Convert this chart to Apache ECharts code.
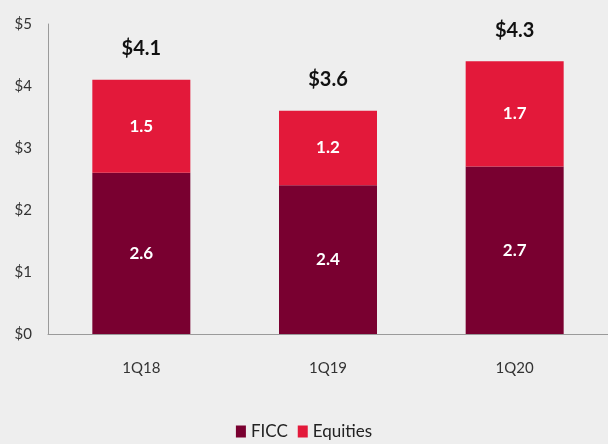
<!DOCTYPE html>
<html>
<head>
<meta charset="utf-8">
<script src="https://cdn.jsdelivr.net/npm/echarts@6/dist/echarts.min.js"></script>
<style>
    html, body { margin: 0; padding: 0; background: #eeeeee; }
    #chart { width: 608px; height: 444px; }
</style>
</head>
<body>
<div id="chart"></div>
<script>
    // data
    var categories = ['1Q18', '1Q19', '1Q20'];
    var ficc = [2.6, 2.4, 2.7];
    var equities = [1.5, 1.2, 1.7];
    var totals = [4.1, 3.6, 4.3];
    var yTicks = ['$0', '$1', '$2', '$3', '$4', '$5'];

    var myChart = echarts.init(document.getElementById('chart'));
    myChart.setOption({
        backgroundColor: '#eeeeee',
        textStyle: { fontFamily: 'Lato' },
        grid: { left: 48, right: 0, top: 24, bottom: 110 },
        legend: {
            bottom: -1,
            left: 'center',
            itemWidth: 10,
            itemHeight: 12,
            itemGap: 10,
            icon: 'rect',
            textStyle: { fontSize: 17, color: '#222', fontFamily: 'Lato' },
            data: ['FICC', 'Equities']
        },
        xAxis: {
            type: 'category',
            data: categories,
            axisTick: { show: false },
            axisLine: { lineStyle: { color: '#9a9a9a', width: 1 } },
            axisLabel: { color: '#333', fontSize: 15, margin: 27 }
        },
        yAxis: {
            type: 'value',
            min: 0,
            max: 5,
            interval: 1,
            splitLine: { show: false },
            axisTick: { show: false },
            axisLine: { show: true, lineStyle: { color: '#9a9a9a', width: 1 } },
            axisLabel: {
                color: '#333',
                fontSize: 15,
                margin: 16,
                formatter: function (v) { return yTicks[v]; }
            }
        },
        series: [
            {
                name: 'FICC',
                type: 'bar',
                stack: 'total',
                data: ficc,
                barWidth: 98,
                itemStyle: { color: '#790030' },
                label: {
                    show: true,
                    position: 'inside',
                    color: '#fff',
                    fontSize: 17,
                    fontWeight: 'bold',
                    formatter: function (p) { return p.value.toFixed(1); }
                }
            },
            {
                name: 'Equities',
                type: 'bar',
                stack: 'total',
                data: equities,
                barWidth: 98,
                itemStyle: { color: '#e3193a' },
                label: {
                    show: true,
                    position: 'inside',
                    color: '#fff',
                    fontSize: 17,
                    fontWeight: 'bold',
                    formatter: function (p) { return p.value.toFixed(1); }
                }
            },
            {
                // invisible series carrying the total labels
                name: 'Total',
                type: 'bar',
                stack: 'total',
                data: [0, 0, 0],
                barWidth: 98,
                itemStyle: { color: 'transparent' },
                label: {
                    show: true,
                    position: 'top',
                    distance: 21,
                    color: '#111',
                    fontSize: 20,
                    fontWeight: 'bold',
                    formatter: function (p) { return '$' + totals[p.dataIndex].toFixed(1); }
                }
            }
        ]
    });
</script>
</body>
</html>
